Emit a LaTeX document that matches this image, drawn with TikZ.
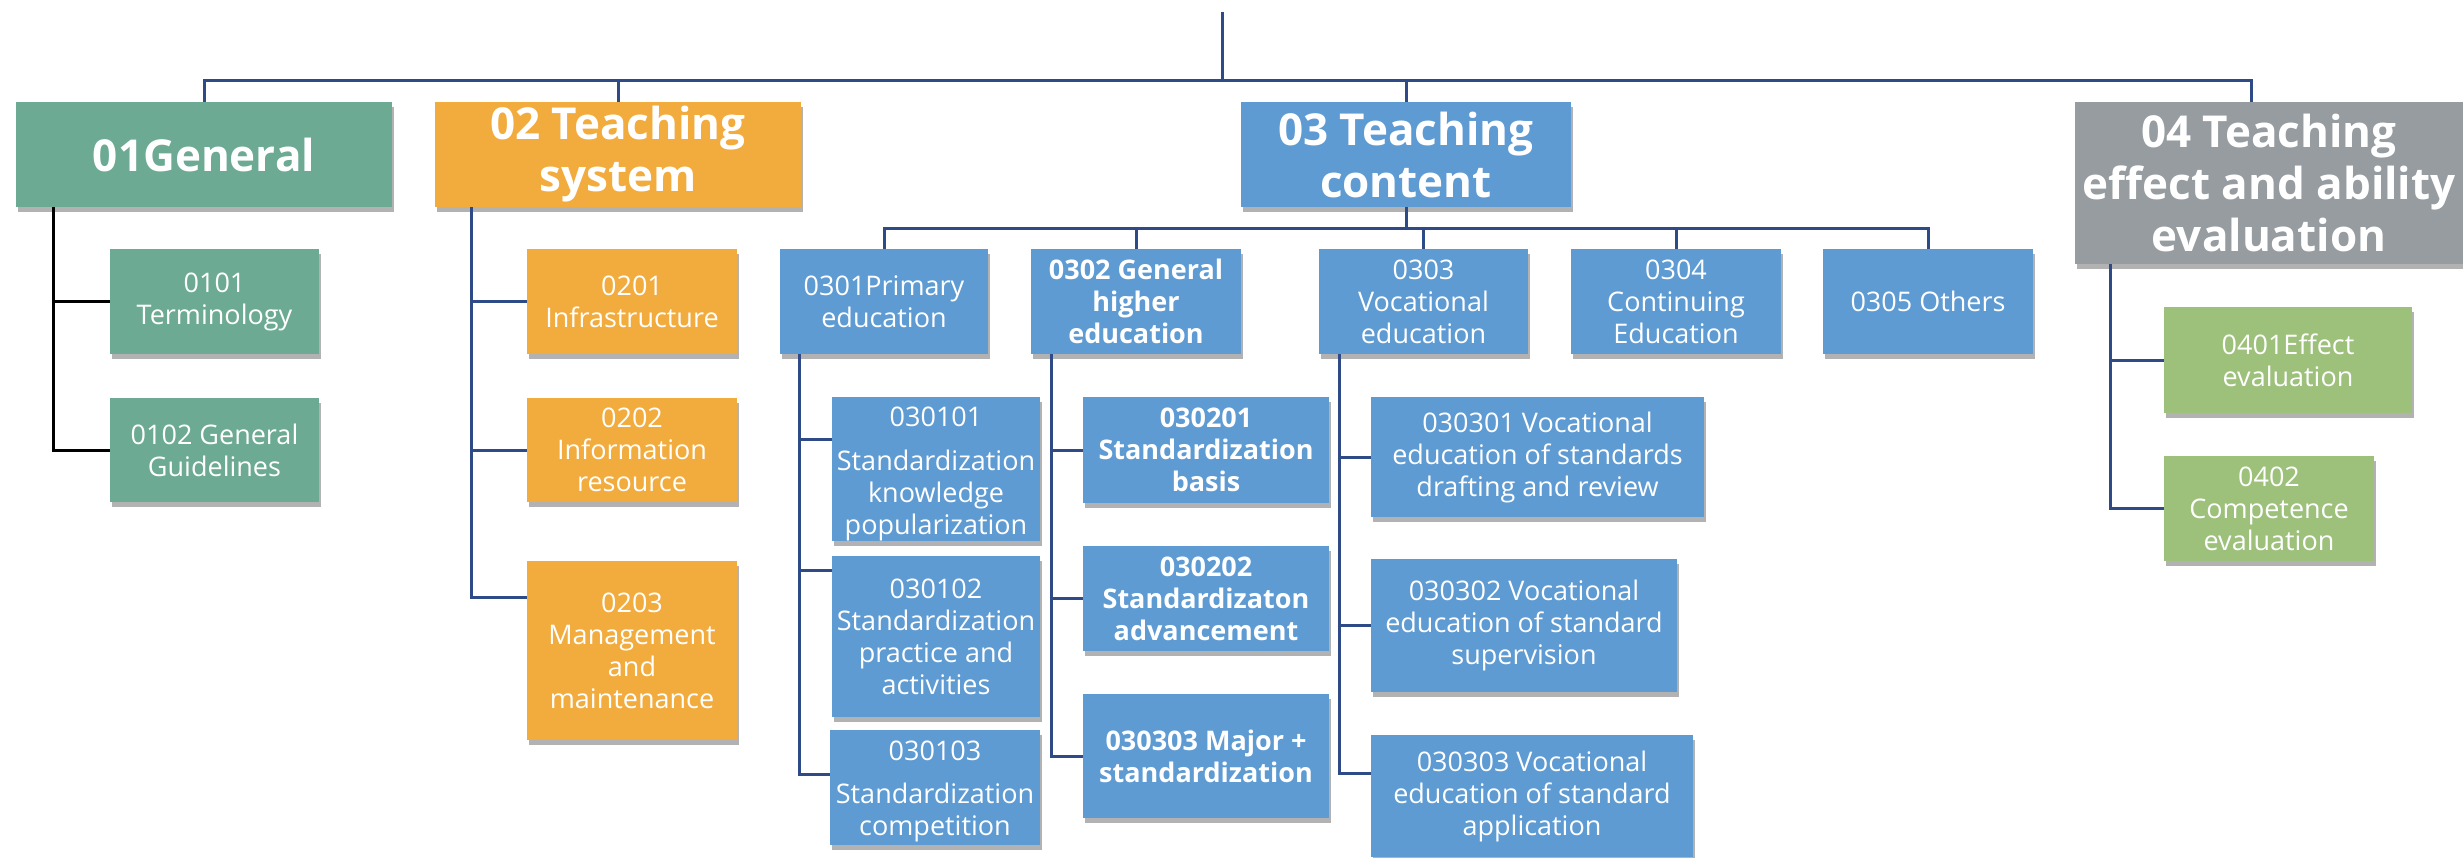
\documentclass[tikz,border=0pt]{standalone}
\usepackage{fontspec}
\setmainfont{Open Sans}
\usetikzlibrary{shadows,calc}
\definecolor{cgreen}{RGB}{108,170,148}
\definecolor{corange}{RGB}{242,172,62}
\definecolor{cblue}{RGB}{95,155,211}
\definecolor{cgray}{RGB}{150,156,159}
\definecolor{clgreen}{RGB}{157,193,123}
\definecolor{cline}{RGB}{46,74,135}
\begin{document}
\begin{tikzpicture}[x=1pt,y=-1pt,
  box/.style={fill=#1, draw=none, inner sep=0pt, align=center, text=white,
    font=\fontsize{27}{32}\selectfont,
    drop shadow={shadow xshift=2pt,shadow yshift=-5pt,opacity=0.3,fill=black}},
  boldbox/.style={box=#1, font=\fontsize{27}{32}\selectfont\bfseries},
  titlebox/.style={box=#1, font=\fontsize{44}{52}\selectfont\bfseries},
  ln/.style={draw=cline, line width=3pt},
  lnk/.style={draw=black, line width=3pt},
]
\useasboundingbox (0,0) rectangle (2463,857);

% level 1
\node[titlebox=cgreen, minimum width=376pt, minimum height=105pt] (g01) at (204,154.5) {01General};
\node[titlebox=corange, minimum width=366pt, minimum height=105pt] (g02) at (618,154.5) {02 Teaching\\system};
\node[titlebox=cblue, minimum width=330pt, minimum height=105pt] (g03) at (1406,154.5) {03 Teaching\\content};
\node[titlebox=cgray, minimum width=388pt, minimum height=162pt] (g04) at (2269,183) {04 Teaching\\effect and ability\\evaluation};

% 01 children
\node[box=cgreen, minimum width=209pt, minimum height=105pt] (n0101) at (214.5,301.5) {0101\\Terminology};
\node[box=cgreen, minimum width=209pt, minimum height=104pt] (n0102) at (214.5,450) {0102 General\\Guidelines};

% 02 children
\node[box=corange, minimum width=210pt, minimum height=105pt] (n0201) at (632,301.5) {0201\\Infrastructure};
\node[box=corange, minimum width=210pt, minimum height=104pt] (n0202) at (632,450) {0202\\Information\\resource};
\node[box=corange, minimum width=210pt, minimum height=179pt] (n0203) at (632,650.5) {0203\\Management\\and\\maintenance};

% 03 children
\node[box=cblue, minimum width=208pt, minimum height=105pt] (n0301) at (884,301.5) {0301Primary\\education};
\node[boldbox=cblue, minimum width=210pt, minimum height=105pt] (n0302) at (1136,301.5) {0302 General\\higher\\education};
\node[box=cblue, minimum width=209pt, minimum height=105pt] (n0303) at (1423.5,301.5) {0303\\Vocational\\education};
\node[box=cblue, minimum width=210pt, minimum height=105pt] (n0304) at (1676,301.5) {0304\\Continuing\\Education};
\node[box=cblue, minimum width=210pt, minimum height=105pt] (n0305) at (1928,301.5) {0305 Others};

% 0301 children
\node[box=cblue, minimum width=208pt, minimum height=144pt] (n030101) at (936,469) {\rule{0pt}{30pt}030101\\[12pt]Standardization\\knowledge\\popularization};
\node[box=cblue, minimum width=208pt, minimum height=161pt] (n030102) at (936,636.5) {030102\\Standardization\\practice and\\activities};
\node[box=cblue, minimum width=210pt, minimum height=115pt] (n030103) at (935,787.5) {\rule{0pt}{28pt}030103\\[11pt]Standardization\\competition};

% 0302 children
\node[boldbox=cblue, minimum width=246pt, minimum height=106pt] (n030201) at (1206,450) {030201\\Standardization\\basis};
\node[boldbox=cblue, minimum width=246pt, minimum height=105pt] (n030202) at (1206,598.5) {030202\\Standardizaton\\advancement};
\node[boldbox=cblue, minimum width=246pt, minimum height=124pt] (n030203) at (1206,756) {030303 Major +\\standardization};

% 0303 children
\node[box=cblue, minimum width=333pt, minimum height=120pt] (n030301) at (1537.5,457) {030301 Vocational\\education of standards\\drafting and review};
\node[box=cblue, minimum width=306pt, minimum height=133pt] (n030302) at (1524,625.5) {030302 Vocational\\education of standard\\supervision};
\node[box=cblue, minimum width=322pt, minimum height=122pt] (n030303) at (1532,796) {030303 Vocational\\education of standard\\application};

% 04 children
\node[box=clgreen, minimum width=248pt, minimum height=106pt] (n0401) at (2288,360) {0401Effect\\evaluation};
\node[box=clgreen, minimum width=210pt, minimum height=105pt] (n0402) at (2269,508.5) {0402\\Competence\\evaluation};

% top connectors
\coordinate (rt) at (1222,12);
\coordinate (bus) at (1222,80);
\coordinate (g04t) at ([xshift=177pt]g04.north west);
\draw[ln] (rt) -- (bus);
\draw[ln] (g01.north) |- (g04t |- bus) -- (g04t);
\draw[ln] (g02.north) -- (g02.north |- bus);
\draw[ln] (g03.north) -- (g03.north |- bus);

% 01
\draw[lnk] ([xshift=38pt]g01.south west) |- (n0101.west);
\draw[lnk] ([xshift=38pt]g01.south west) |- (n0102.west);

% 02
\draw[ln] ([xshift=37pt]g02.south west) |- (n0201.west);
\draw[ln] ([xshift=37pt]g02.south west) |- (n0202.west);
\draw[ln] ([xshift=37pt]g02.south west) |- ([yshift=-37pt]n0203.north west);

% 03 bus
\coordinate (b3) at ([yshift=-21pt]g03.south);
\draw[ln] (g03.south) -- (b3);
\draw[ln] (n0301.north) |- (b3 -| n0305.north) -- (n0305.north);
\draw[ln] (n0302.north) -- (n0302.north |- b3);
\draw[ln] (n0303.north) -- (n0303.north |- b3);
\draw[ln] (n0304.north) -- (n0304.north |- b3);

% 04
\draw[ln] ([xshift=36pt]g04.south west) |- (n0401.west);
\draw[ln] ([xshift=36pt]g04.south west) |- (n0402.west);

% 0301
\draw[ln] ([xshift=20pt]n0301.south west) |- ([yshift=-43pt]n030101.north west);
\draw[ln] ([xshift=20pt]n0301.south west) |- ([yshift=-15pt]n030102.north west);
\draw[ln] ([xshift=20pt]n0301.south west) |- ([yshift=-45pt]n030103.north west);

% 0302
\draw[ln] ([xshift=21pt]n0302.south west) |- (n030201.west);
\draw[ln] ([xshift=21pt]n0302.south west) |- (n030202.west);
\draw[ln] ([xshift=21pt]n0302.south west) |- (n030203.west);

% 0303
\draw[ln] ([xshift=21pt]n0303.south west) |- (n030301.west);
\draw[ln] ([xshift=21pt]n0303.south west) |- (n030302.west);
\draw[ln] ([xshift=21pt]n0303.south west) |- ([yshift=-39pt]n030303.north west);
\end{tikzpicture}
\end{document}
